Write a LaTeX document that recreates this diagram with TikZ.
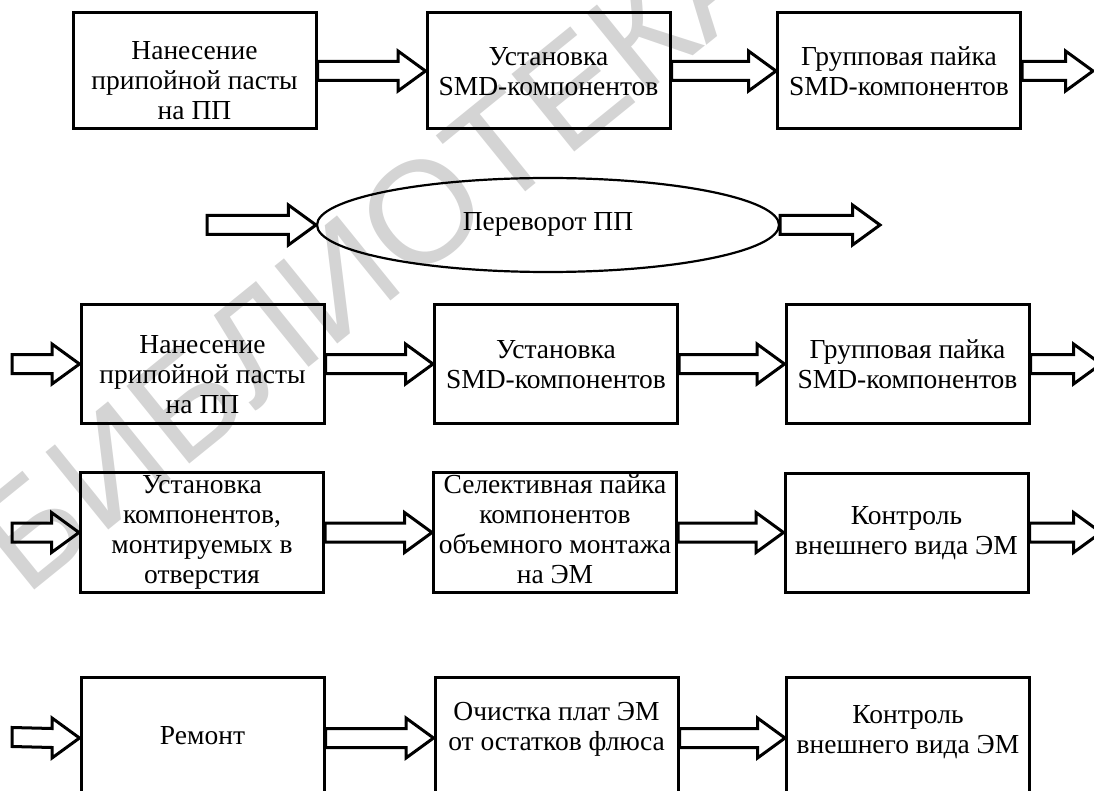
\documentclass[tikz,border=0pt]{standalone}
\usepackage{fontspec}
\setmainfont{Liberation Serif}
\newfontfamily\marksans{Liberation Sans}
\usetikzlibrary{calc,shapes.geometric}

% multi-line label; optional argument lowers the text inside its box
\newcommand\tb[2][0pt]{\raisebox{-#1}[\height][\depth]{\begin{tabular}{@{}c@{}}#2\end{tabular}}}

% hollow block arrow from anchor #1 to tip #2
\newcommand\flowarrow[2]{%
  \draw[flow] ($(#1)+(0,9.5)$) -- ($(#2)+(-27.5,9.5)$) -- ($(#2)+(-27.5,20)$) -- (#2)
    -- ($(#2)+(-27.5,-20)$) -- ($(#2)+(-27.5,-9.5)$) -- ($(#1)+(0,-9.5)$) -- cycle;}

\tikzset{
  txt/.style={font=\fontsize{27.5}{30}\selectfont},
  stage/.style={txt, draw, line width=3pt, inner sep=0pt, minimum width=243pt, minimum height=#1},
  stage/.default=118pt,
  turn/.style={txt, draw, ellipse, line width=2.2pt, inner sep=0pt, minimum width=462pt, minimum height=94pt},
  flow/.style={draw, line width=3pt},
  stamp/.style={font=\marksans\fontsize{145}{145}\selectfont, text=black!17, rotate=39, inner sep=0pt},
}

\begin{document}
\begin{tikzpicture}[x=1pt, y=-1pt]
\useasboundingbox (0,0) rectangle (1094,791);

\node[stamp] (wm) at (372,252) {БИБЛИОТЕКА};

% first side: SMD
\node[stage=116pt] (b11) at (194.5,71) {\tb[13pt]{Нанесение\\припойной пасты\\на ПП}};
\node[stage=116pt] (b12) at (548.5,71) {\tb[4pt]{Установка\\SMD-компонентов}};
\node[stage=116pt] (b13) at (899,71)   {\tb[4pt]{Групповая пайка\\SMD-компонентов}};
\coordinate (e1) at (1093,71);
\flowarrow{b11.east}{b12.west}
\flowarrow{b12.east}{b13.west}
\flowarrow{b13.east}{e1}

% board flip
\node[turn] (flip) at (548,225) {\tb{Переворот ПП}};
\coordinate (fin) at (207,225);
\coordinate (fout) at (880,225);
\flowarrow{fin}{flip.west}
\flowarrow{flip.east}{fout}

% second side: SMD
\coordinate (s3) at (12,364);
\node[stage] (b31) at (202.5,364) {\tb[13pt]{Нанесение\\припойной пасты\\на ПП}};
\node[stage] (b32) at (556,364)   {\tb[3pt]{Установка\\SMD-компонентов}};
\node[stage] (b33) at (907.5,364) {\tb[3pt]{Групповая пайка\\SMD-компонентов}};
\coordinate (e3) at (1101,364);
\flowarrow{s3}{b31.west}
\flowarrow{b31.east}{b32.west}
\flowarrow{b32.east}{b33.west}
\flowarrow{b33.east}{e3}

% through-hole components
\coordinate (s4) at (12,532.5);
\node[stage=119pt] (b41) at (202,532.5)   {\tb{Установка\\компонентов,\\монтируемых в\\отверстия}};
\node[stage=119pt] (b42) at (555,532.5)   {\tb{Селективная пайка\\компонентов\\объемного монтажа\\на ЭМ}};
\node[stage=119pt] (b43) at (906.5,532.5) {\tb[1pt]{Контроль\\внешнего вида ЭМ}};
\coordinate (e4) at (1101,532.5);
\flowarrow{s4}{b41.west}
\flowarrow{b41.east}{b42.west}
\flowarrow{b42.east}{b43.west}
\flowarrow{b43.east}{e4}

% repair and cleaning
\coordinate (s5) at (12,737);
\node[stage=122pt] (b51) at (202.5,738) {\tb{Ремонт}};
\node[stage=122pt] (b52) at (556.5,738) {\tb[-9pt]{Очистка плат ЭМ\\от остатков флюса}};
\node[stage=122pt] (b53) at (908,738)   {\tb[-6pt]{Контроль\\внешнего вида ЭМ}};
\flowarrow{s5}{b51.west}
\flowarrow{b51.east}{b52.west}
\flowarrow{b52.east}{b53.west}
\end{tikzpicture}
\end{document}
